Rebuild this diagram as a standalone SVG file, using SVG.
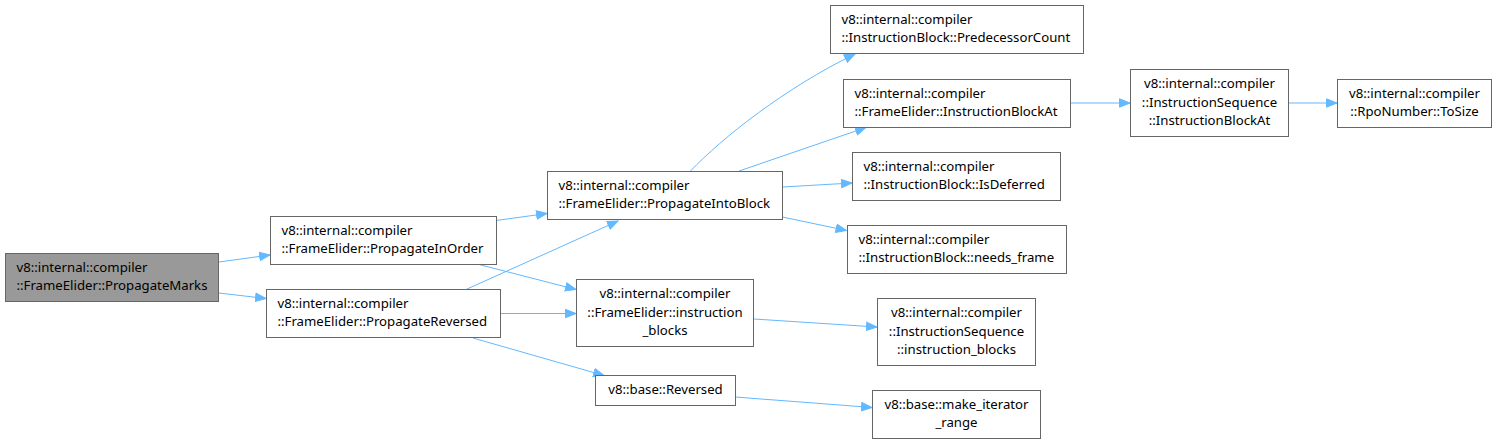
<svg xmlns="http://www.w3.org/2000/svg" width="1497" height="445" viewBox="0 0 1497 445">
<style>
.n rect{fill:#ffffff;stroke:#666666;stroke-width:1}
.n.root rect{fill:#999999}
.n text{font-family:"Noto Sans","DejaVu Sans",sans-serif;font-size:13.2px;fill:#000000}
.c{text-anchor:middle}
#edges path{fill:none;stroke:#63b8ff;stroke-width:1;marker-end:url(#ah)}
</style>
<defs>
<marker id="ah" markerUnits="userSpaceOnUse" markerWidth="12" markerHeight="10" refX="11" refY="5" orient="auto">
<path d="M0.5,0.8 L11,5 L0.5,9.2 z" fill="#63b8ff" stroke="#63b8ff" stroke-width="1"/>
</marker>
</defs>
<rect width="1497" height="445" fill="#ffffff"/>
<g id="edges">
<path d="M219,262 L270,255"/>
<path d="M219,293 L266,298.5"/>
<path d="M496,220.5 L547,213.5"/>
<path d="M479,264.5 L576,289.5"/>
<path d="M466,289.5 L618,221"/>
<path d="M500,313.5 L576,313.5"/>
<path d="M473,338 L604,375.5"/>
<path d="M690.5,171 C722,138 785,88 855,54"/>
<path d="M739,171 L866,127.5"/>
<path d="M782.5,187 L852,183"/>
<path d="M782.5,217 L846.5,230.5"/>
<path d="M1070,103 L1130,103"/>
<path d="M1289,103 L1337,103"/>
<path d="M754,319 L877,327"/>
<path d="M735,397 L872,407.5"/>
</g>
<g id="PropagateMarks" class="n root">
<rect x="5.5" y="253.5" width="213" height="48"/>
<text x="16.5" y="272">v8::internal::compiler</text>
<text x="16.5" y="290">::FrameElider::PropagateMarks</text>
</g>
<g id="PropagateInOrder" class="n">
<rect x="270.5" y="216.5" width="226" height="48"/>
<text x="281.5" y="234.5">v8::internal::compiler</text>
<text x="281.5" y="252.5">::FrameElider::PropagateInOrder</text>
</g>
<g id="PropagateReversed" class="n">
<rect x="266.5" y="289.5" width="234" height="48"/>
<text x="277.5" y="307.5">v8::internal::compiler</text>
<text x="277.5" y="325.5">::FrameElider::PropagateReversed</text>
</g>
<g id="PropagateIntoBlock" class="n">
<rect x="547.5" y="171.5" width="235" height="48"/>
<text x="558.5" y="189.5">v8::internal::compiler</text>
<text x="558.5" y="207.5">::FrameElider::PropagateIntoBlock</text>
</g>
<g id="FrameEliderInstructionBlocks" class="n">
<rect x="576.5" y="279.5" width="177" height="67"/>
<text class="c" x="665" y="298">v8::internal::compiler</text>
<text class="c" x="665" y="316.5">::FrameElider::instruction</text>
<text class="c" x="665" y="335">_blocks</text>
</g>
<g id="Reversed" class="n">
<rect x="595.5" y="375.5" width="140" height="30"/>
<text class="c" x="665.5" y="394">v8::base::Reversed</text>
</g>
<g id="PredecessorCount" class="n">
<rect x="830.5" y="5.5" width="253" height="48"/>
<text x="841.5" y="23.5">v8::internal::compiler</text>
<text x="841.5" y="41.5">::InstructionBlock::PredecessorCount</text>
</g>
<g id="FrameEliderInstructionBlockAt" class="n">
<rect x="843.5" y="79.5" width="227" height="48"/>
<text x="854.5" y="97.5">v8::internal::compiler</text>
<text x="854.5" y="115.5">::FrameElider::InstructionBlockAt</text>
</g>
<g id="IsDeferred" class="n">
<rect x="852.5" y="152.5" width="208" height="48"/>
<text x="863.5" y="170.5">v8::internal::compiler</text>
<text x="863.5" y="188.5">::InstructionBlock::IsDeferred</text>
</g>
<g id="NeedsFrame" class="n">
<rect x="847.5" y="225.5" width="219" height="48"/>
<text x="858.5" y="243.5">v8::internal::compiler</text>
<text x="858.5" y="261.5">::InstructionBlock::needs_frame</text>
</g>
<g id="SeqInstructionBlockAt" class="n">
<rect x="1130.5" y="69.5" width="158" height="67"/>
<text class="c" x="1209.5" y="88">v8::internal::compiler</text>
<text class="c" x="1209.5" y="106.5">::InstructionSequence</text>
<text class="c" x="1209.5" y="125">::InstructionBlockAt</text>
</g>
<g id="ToSize" class="n">
<rect x="1337.5" y="79.5" width="154" height="48"/>
<text class="c" x="1414.5" y="97.5">v8::internal::compiler</text>
<text class="c" x="1414.5" y="115.5">::RpoNumber::ToSize</text>
</g>
<g id="SeqInstructionBlocks" class="n">
<rect x="877.5" y="298.5" width="158" height="67"/>
<text class="c" x="956.5" y="317">v8::internal::compiler</text>
<text class="c" x="956.5" y="335.5">::InstructionSequence</text>
<text class="c" x="956.5" y="354">::instruction_blocks</text>
</g>
<g id="MakeIteratorRange" class="n">
<rect x="872.5" y="390.5" width="168" height="48"/>
<text class="c" x="956.5" y="408.5">v8::base::make_iterator</text>
<text class="c" x="956.5" y="426.5">_range</text>
</g>
</svg>
